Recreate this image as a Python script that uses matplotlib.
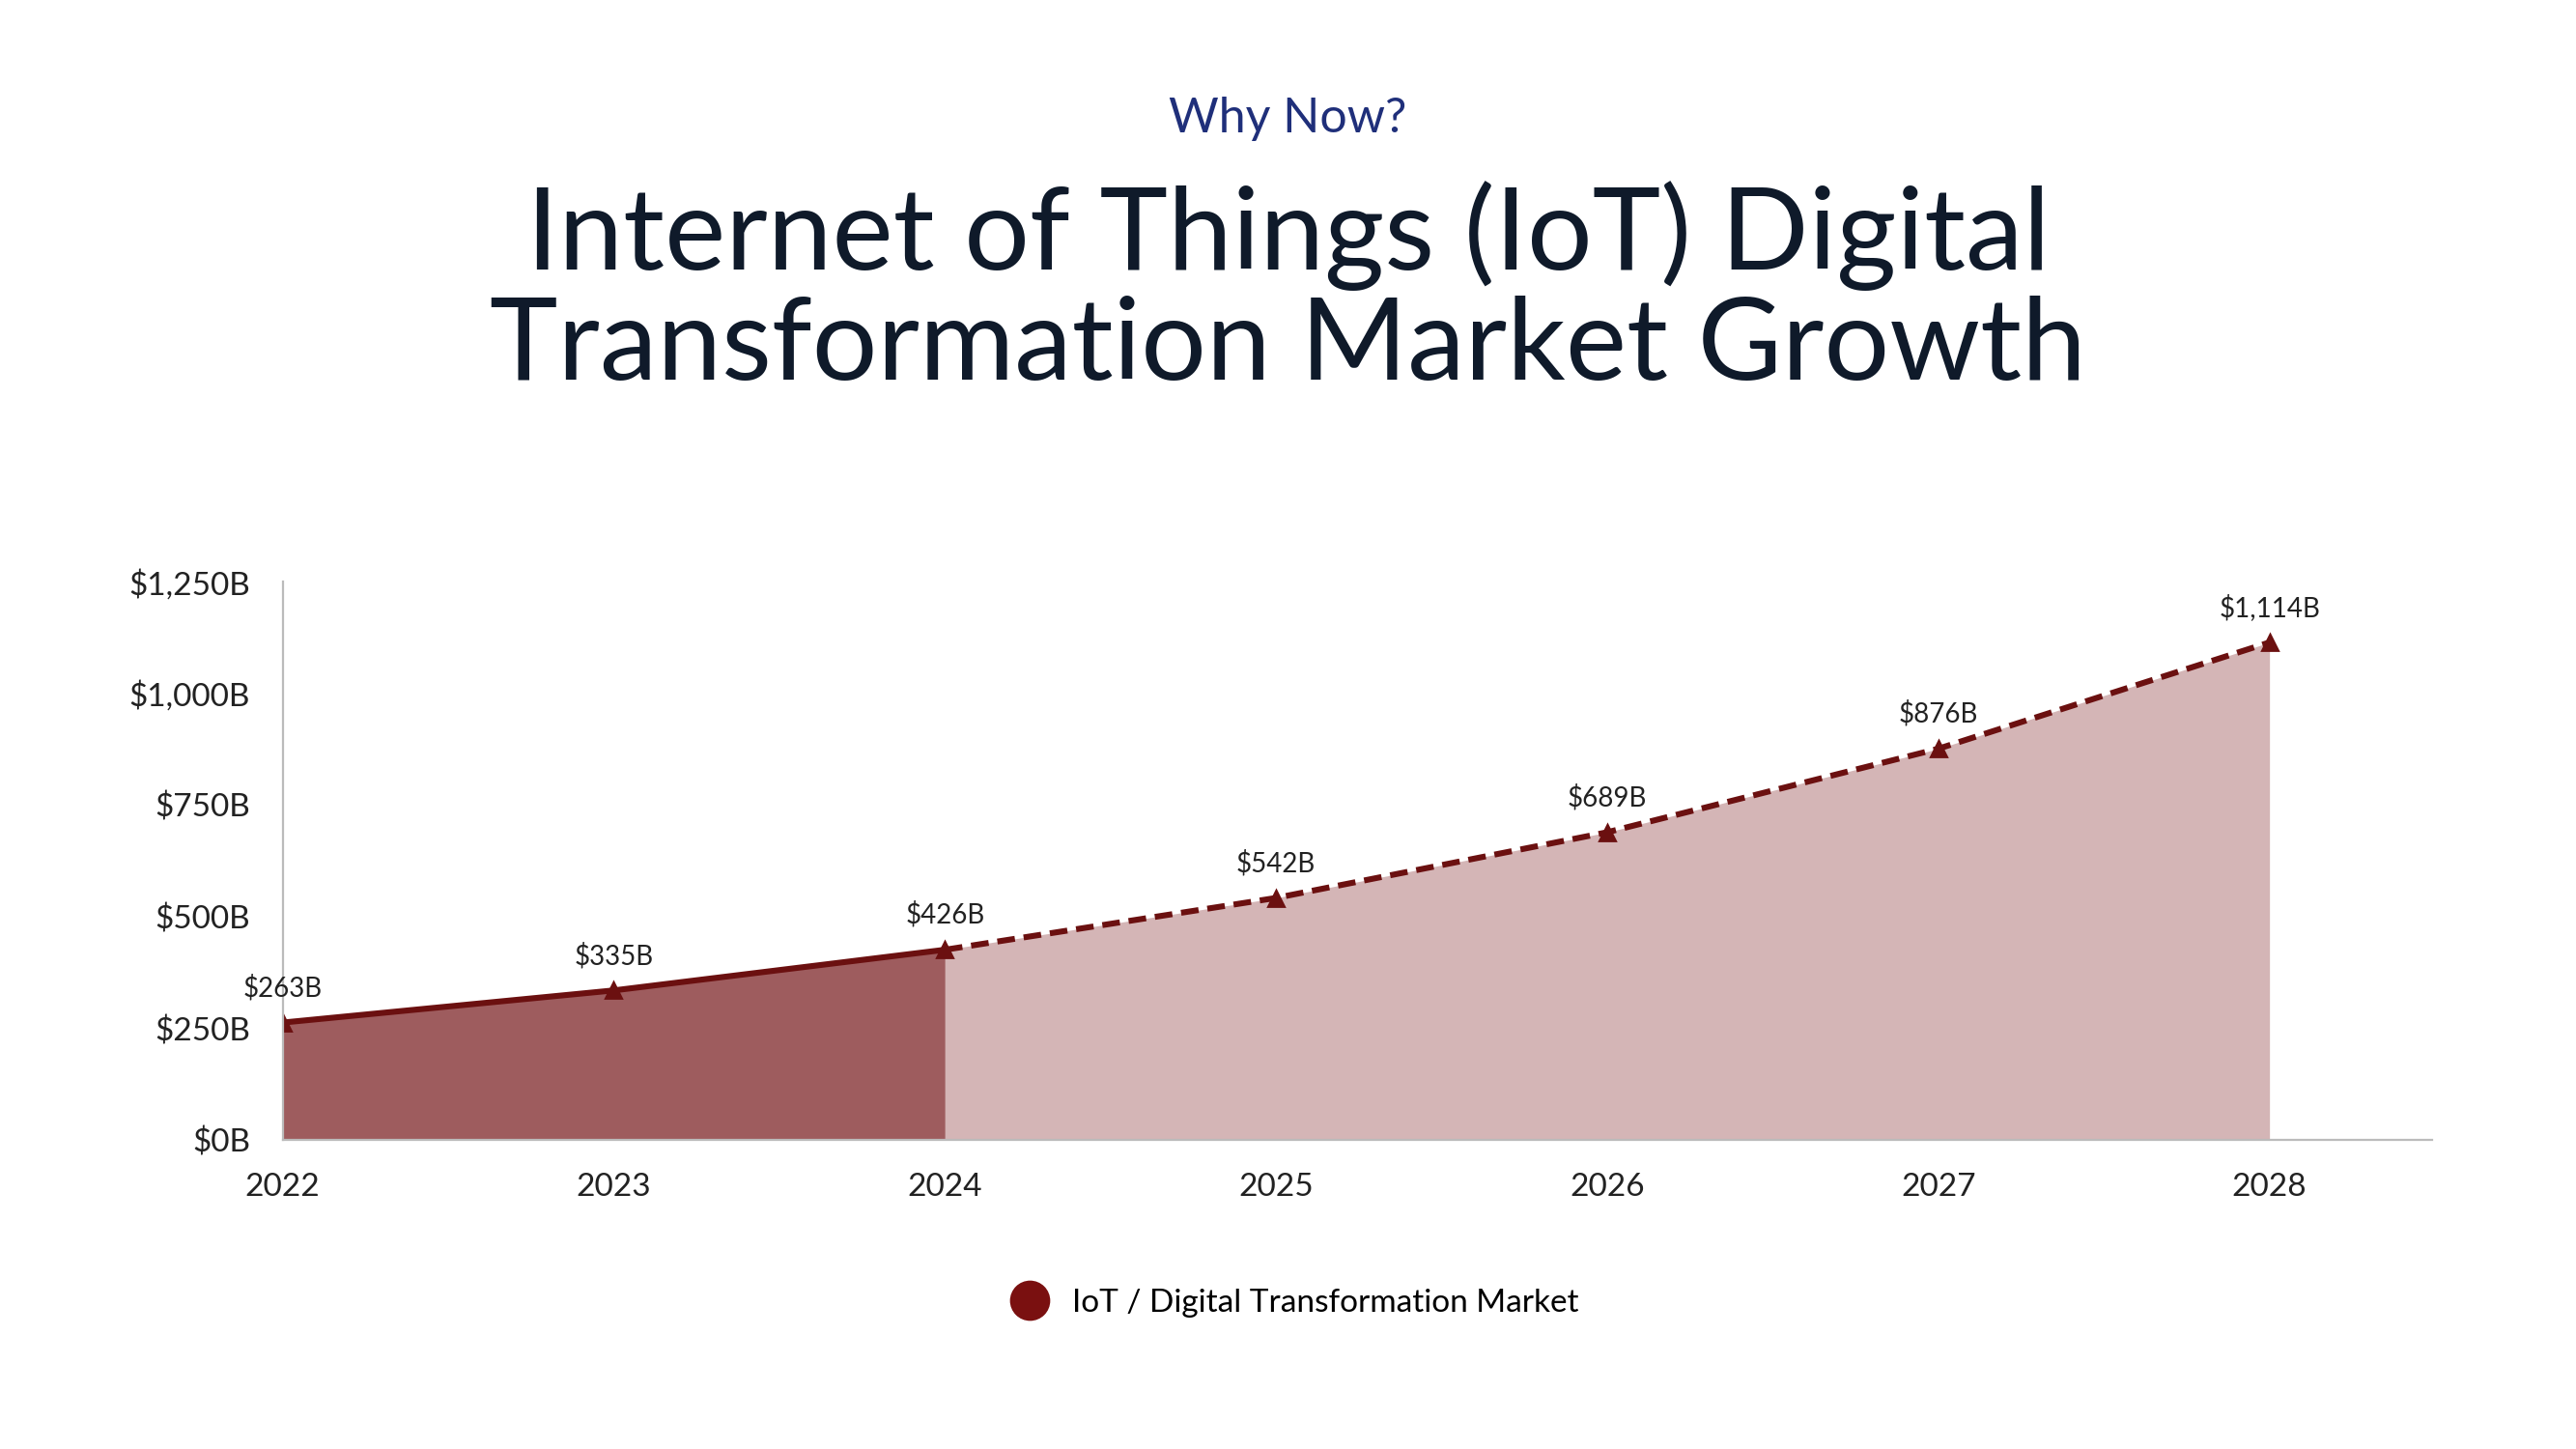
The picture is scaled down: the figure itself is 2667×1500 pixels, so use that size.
import matplotlib.pyplot as plt
from matplotlib.lines import Line2D

plt.rcParams['font.family'] = ['Lato', 'DejaVu Sans']

years = [2022, 2023, 2024, 2025, 2026, 2027, 2028]
values = [263, 335, 426, 542, 689, 876, 1114]
labels = ['$263B', '$335B', '$426B', '$542B', '$689B', '$876B', '$1,114B']
yticks = [0, 250, 500, 750, 1000, 1250]
ytick_labels = ['$0B', '$250B', '$500B', '$750B', '$1,000B', '$1,250B']
n_actual = 3  # 2022-2024 actual, rest forecast

line_col = '#6b1010'
fig = plt.figure(figsize=(13.335, 7.5), dpi=200)
ax = fig.add_axes([0.1097, 0.2132, 0.8343, 0.3854])

ax.fill_between(years[n_actual - 1:], values[n_actual - 1:], color='#d4b5b6', lw=0)
ax.fill_between(years[:n_actual], values[:n_actual], color='#9e5c5e', lw=0)
ax.plot(years[:n_actual], values[:n_actual], color=line_col, lw=2.2)
ax.plot(years[n_actual - 1:], values[n_actual - 1:], color=line_col, lw=2.2, ls=(0, (3, 1.5)))
ax.plot(years, values, '^', color=line_col, ms=6, ls='none')
for x, v, t in zip(years, values, labels):
    ax.annotate(t, (x, v), xytext=(0, 8), textcoords='offset points',
                ha='center', va='bottom', fontsize=10, color='#222222')

ax.set_xlim(2022, 2028.49)
ax.set_ylim(0, 1250)
ax.set_xticks(years)
ax.set_xticklabels([str(y) for y in years])
ax.set_yticks(yticks)
ax.set_yticklabels(ytick_labels)
ax.tick_params(length=0, labelsize=12, colors='#222222', pad=12)
for s in ['top', 'right']:
    ax.spines[s].set_visible(False)
for s in ['left', 'bottom']:
    ax.spines[s].set_color('#bbbbbb')

fig.text(0.5, 0.918, 'Why Now?', ha='center', va='center', fontsize=18,
         color='#1f2f7a')
fig.text(0.5, 0.80, 'Internet of Things (IoT) Digital\nTransformation Market Growth',
         ha='center', va='center', fontsize=43, color='#0f1a2a',
         linespacing=1.05)

handle = Line2D([], [], marker='o', color='none', markerfacecolor='#7a1010',
                markeredgecolor='#7a1010', markersize=14)
fig.legend([handle], ['IoT / Digital Transformation Market'], loc='center',
           bbox_to_anchor=(0.5, 0.101), frameon=False, fontsize=12, handletextpad=0.3)

fig.savefig('out.png', dpi=200, facecolor='white')
